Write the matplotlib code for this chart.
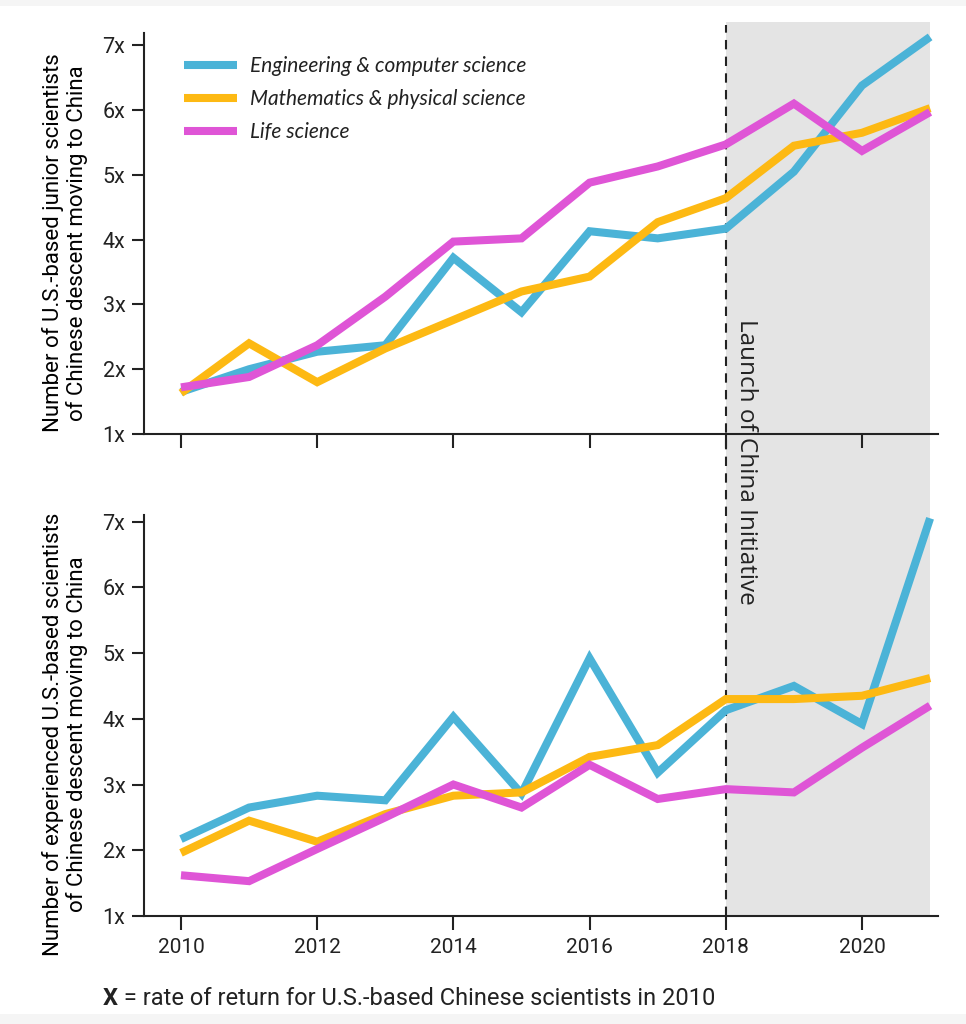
import matplotlib
matplotlib.use("Agg")
import matplotlib.pyplot as plt
from matplotlib.patches import Rectangle
from matplotlib.lines import Line2D
from matplotlib.transforms import blended_transform_factory

years = list(range(2010, 2022))
series_names = ['Engineering & computer science', 'Mathematics & physical science', 'Life science']
colors = ['#4BB3D7', '#FDB913', '#DF55D6']

# junior scientists (top panel)
junior_eng = [1.65, 2.0, 2.27, 2.37, 3.72, 2.88, 4.13, 4.02, 4.17, 5.05, 6.38, 7.13]
junior_math = [1.63, 2.4, 1.8, 2.32, 2.76, 3.2, 3.43, 4.27, 4.64, 5.45, 5.65, 6.03]
junior_life = [1.72, 1.88, 2.37, 3.12, 3.97, 4.02, 4.88, 5.13, 5.47, 6.1, 5.37, 5.97]

# experienced scientists (bottom panel)
exp_eng = [2.17, 2.65, 2.83, 2.76, 4.03, 2.86, 4.92, 3.18, 4.13, 4.5, 3.92, 7.05]
exp_math = [1.96, 2.45, 2.13, 2.55, 2.83, 2.88, 3.42, 3.6, 4.3, 4.3, 4.35, 4.62]
exp_life = [1.62, 1.53, 2.02, 2.5, 3.0, 2.65, 3.3, 2.78, 2.93, 2.88, 3.56, 4.2]

yticks = [1, 2, 3, 4, 5, 6, 7]
ytick_labels = ['1x', '2x', '3x', '4x', '5x', '6x', '7x']
xticks = [2010, 2012, 2014, 2016, 2018, 2020]

plt.rcParams['font.family'] = ['Roboto', 'DejaVu Sans']
plt.rcParams['text.color'] = '#222222'

W, H = 966, 1024
fig = plt.figure(figsize=(W / 100, H / 100), dpi=100)
fig.patch.set_facecolor('white')

ax1 = fig.add_axes([144 / W, 1 - 434 / H, 794 / W, 412 / H])
ax2 = fig.add_axes([144 / W, 1 - 916 / H, 794 / W, 401 / H], sharex=ax1)

panels = [(ax1, [junior_eng, junior_math, junior_life], 7.36, 7.19,
           'Number of U.S.-based junior scientists\nof Chinese descent moving to China'),
          (ax2, [exp_eng, exp_math, exp_life], 7.1, 7.1,
           'Number of experienced U.S.-based scientists\nof Chinese descent moving to China')]

for ax, data, ytop, spine_top, ylabel in panels:
    ax.set_facecolor('none')
    for vals, c, n in zip(data, colors, series_names):
        ax.plot(years, vals, color=c, lw=5.8, solid_capstyle='butt', solid_joinstyle='miter', label=n)
    ax.set_ylim(1, ytop)
    ax.set_xlim(2009.457, 2021.116)
    ax.set_yticks(yticks)
    ax.set_yticklabels(ytick_labels)
    ax.set_xticks(xticks)
    for s in ['top', 'right']:
        ax.spines[s].set_visible(False)
    ax.spines['left'].set_bounds(1, spine_top)
    for s in ['left', 'bottom']:
        ax.spines[s].set_linewidth(1.5)
        ax.spines[s].set_color('#222222')
    ax.tick_params(axis='y', length=8.5, width=1.5, pad=5, labelsize=15.5, colors='#222222')
    ax.tick_params(axis='x', length=10, width=1.5, pad=6, labelsize=15, colors='#222222')
    ax.set_ylabel(ylabel, fontsize=16, linespacing=1.12)

ax1.tick_params(axis='x', labelbottom=False)
ax1.yaxis.set_label_coords(-0.071, 0.464)
ax2.yaxis.set_label_coords(-0.071, 0.454)

# shaded period and launch line across both panels
tr = blended_transform_factory(ax2.transData, fig.transFigure)
fig.add_artist(Rectangle((2018, 1 - 916 / H), 3, (916 - 22) / H, transform=tr,
                         facecolor='#E4E4E4', edgecolor='none', zorder=-2))
fig.add_artist(Line2D([2018, 2018], [1 - 916 / H, 1 - 25 / H], transform=tr,
                      color='#222222', lw=1.5, linestyle=(0, (4.5, 3.5)), zorder=-1))
fig.text(2018.12, 1 - 319 / H, 'Launch of China Initiative', transform=tr,
         rotation=270, ha='left', va='top', fontsize=17.5, family=['Open Sans', 'DejaVu Sans'],
         color='#222222')

ax1.legend(loc='upper left', bbox_to_anchor=(0.027, 0.962), frameon=False,
           handlelength=2.55, handletextpad=0.6, labelspacing=0.62,
           prop={'family': ['Lato', 'DejaVu Sans'], 'style': 'italic', 'size': 15})

t1 = fig.text(103 / W, 1 - 1005 / H, 'X', fontsize=17, fontweight='bold', va='baseline')
ax2.annotate(' = rate of return for U.S.-based Chinese scientists in 2010', xy=(1, 0),
             xycoords=t1, va='bottom', ha='left', fontsize=17, annotation_clip=False)

# light strips at top and bottom edges
fig.add_artist(Rectangle((0, 0), 1, 10 / H, transform=fig.transFigure,
                         facecolor='#F5F5F5', edgecolor='none', zorder=-3))
fig.add_artist(Rectangle((0, 1 - 6 / H), 1, 6 / H, transform=fig.transFigure,
                         facecolor='#F5F5F5', edgecolor='none', zorder=-3))

fig.savefig('out.png', dpi=100)
